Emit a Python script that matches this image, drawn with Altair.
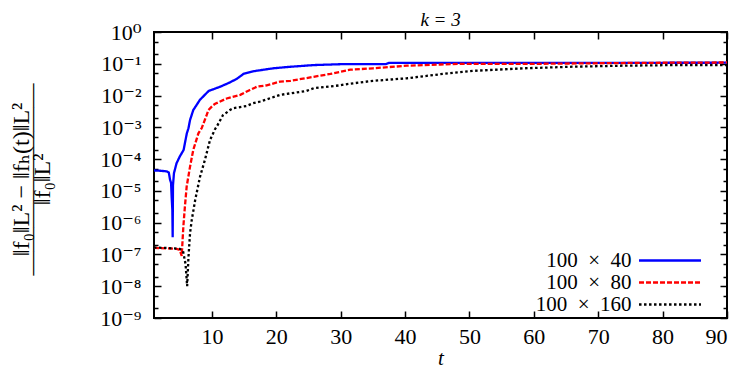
import altair as alt
import pandas as pd

series_names = ["100 × 40", "100 × 80", "100 × 160"]
series_colors = ["#0000ff", "#ff0000", "#000000"]

t_40 = [1.0, 2.0, 3.0, 3.3, 3.5, 3.65, 3.75, 3.85, 3.9, 3.95, 4.1, 4.5, 5.0, 5.6, 6.1, 6.35,
        6.6, 7.1, 8.15, 9.5, 11.3, 12.8, 13.9, 14.9, 16.4, 19.5, 22.0, 25.8, 30.0, 37.0, 37.5,
        50.0, 70.0, 90.0]
v_40 = [4.4e-5, 4.3e-5, 4.1e-5, 3.8e-5, 2.2e-5, 1.8e-5, 6e-6, 2.5e-6, 3.5e-7, 1.5e-5, 3.6e-5,
        7.4e-5, 1.2e-4, 1.95e-4, 6.5e-4, 9.3e-4, 1.7e-3, 3.5e-3, 7.4e-3, 1.4e-2, 1.9e-2, 2.6e-2,
        3.4e-2, 4.8e-2, 5.8e-2, 7.2e-2, 8.0e-2, 9.1e-2, 9.7e-2, 9.7e-2, 0.107, 0.107, 0.107, 0.108]

t_80 = [1.0, 3.0, 4.5, 5.0, 5.3, 5.56, 5.8, 6.08, 6.6, 7.1, 7.9, 8.4, 9.2, 9.45, 10.2, 10.5,
        12.3, 14.4, 15.9, 17.0, 18.5, 20.6, 22.2, 25.8, 28.4, 31.5, 35.0, 40.3, 45.5, 49.0,
        61.0, 76.6, 90.0]
v_80 = [1.6e-7, 1.55e-7, 1.5e-7, 1.4e-7, 9e-8, 7.6e-7, 3.2e-6, 1.4e-5, 5.8e-5, 1.95e-4, 6.5e-4,
        9.3e-4, 2.5e-3, 3.5e-3, 5.0e-3, 5.5e-3, 8.1e-3, 1.05e-2, 1.5e-2, 1.9e-2, 2.1e-2, 2.75e-2,
        2.9e-2, 3.9e-2, 4.8e-2, 6.5e-2, 7.2e-2, 8.7e-2, 9.5e-2, 0.1, 0.1, 0.107, 0.11]

t_160 = [1.0, 3.0, 5.0, 5.5, 5.9, 6.15, 6.35, 6.6, 6.86, 7.4, 8.15, 8.9, 9.7, 10.5, 10.8, 11.7,
         12.8, 13.3, 15.4, 16.4, 17.5, 20.6, 24.7, 25.8, 29.9, 31.0, 35.0, 40.3, 45.5, 50.6,
         58.4, 66.2, 73.9, 81.7, 90.0]
v_160 = [1.65e-7, 1.6e-7, 1.5e-7, 1.3e-7, 5e-8, 1.0e-8, 8e-8, 4.7e-7, 1.2e-6, 5.2e-6, 2.8e-5,
         9.3e-5, 4.0e-4, 8.9e-4, 1.1e-3, 2.4e-3, 3.5e-3, 4.0e-3, 4.7e-3, 5.75e-3, 6.5e-3,
         1.05e-2, 1.4e-2, 1.7e-2, 2.1e-2, 2.3e-2, 2.9e-2, 3.5e-2, 4.7e-2, 6.0e-2, 7.2e-2,
         8.1e-2, 8.7e-2, 9.1e-2, 9.1e-2]

major_y = [1, 1e-1, 1e-2, 1e-3, 1e-4, 1e-5, 1e-6, 1e-7, 1e-8, 1e-9]
minor_y = [m * 10.0 ** (-k) for k in range(1, 10) for m in (5, 2)]
x_ticks = [10, 20, 30, 40, 50, 60, 70, 80, 90]
y_label_texts = ["10⁰", "10⁻¹", "10⁻²", "10⁻³", "10⁻⁴", "10⁻⁵", "10⁻⁶", "10⁻⁷", "10⁻⁸", "10⁻⁹"]
legend_texts = ["100\u2002×\u200240", "100\u2002×\u200280", "100\u2002×\u2002160"]
y_title_lines = ["‖f₀‖L² − ‖fₕ(t)‖L²", "————————", "\u00a0", "‖f₀‖L²"]

rows = []
for name, ts, vs in zip(series_names, [t_40, t_80, t_160], [v_40, v_80, v_160]):
    for t, v in zip(ts, vs):
        rows.append({"series": name, "t": t, "v": v})
df = pd.DataFrame(rows)

FONT = "'Liberation Serif', 'DejaVu Serif', serif"
label_expr = "[" + ",".join("'%s'" % s for s in y_label_texts) + "][round(-log(datum.value)/LN10)]"
legend_expr = "{" + ",".join("'%s':'%s'" % (a, b) for a, b in zip(series_names, legend_texts)) + "}[datum.label]"

xscale = alt.Scale(domain=[1, 90], nice=False, zero=False)
yscale = alt.Scale(type="log", domain=[1e-9, 1], nice=False)

legend = alt.Legend(
    title=None, orient="none", legendX=505.5, legendY=218, padding=0,
    symbolType="M-4,0H4", symbolSize=240, symbolStrokeWidth=2.5, symbolOffset=0,
    labelAlign="right", labelOffset=alt.ExprRef(expr="-49"), labelFont=FONT, labelFontSize=21,
    labelColor="#000", rowPadding=0, labelExpr=legend_expr,
)

lines = alt.Chart(df).mark_line(strokeWidth=2.3, clip=True).encode(
    x=alt.X("t:Q", scale=xscale,
            axis=alt.Axis(orient="bottom", values=x_ticks, ticks=False, domain=False, grid=False,
                          labelPadding=8, title="t", titleFontStyle="italic",
                          titleFont=FONT, titleFontSize=21, titleFontWeight="normal",
                          titlePadding=0)),
    y=alt.Y("v:Q", scale=yscale,
            axis=alt.Axis(orient="left", values=major_y, ticks=False, domain=False, grid=False,
                          labelExpr=label_expr, labelPadding=13,
                          title=y_title_lines,
                          titleAngle=270, titleX=-133, titleY=147, titleBaseline="middle",
                          titleAlign="center", titleFont=FONT, titleFontSize=24,
                          titleFontWeight="normal", titleLineHeight=10.5, titleColor="#000")),
    color=alt.Color("series:N", scale=alt.Scale(domain=series_names, range=series_colors),
                    legend=legend),
    strokeDash=alt.StrokeDash("series:N",
                              scale=alt.Scale(domain=series_names,
                                              range=[[1, 0], [5, 2], [2.5, 2.5]]),
                              legend=legend),
    order=alt.Order("t:Q"),
)

def tick_layer(yvals, yorient, ylen, xaxis):
    return alt.Chart(df).mark_line(opacity=0).encode(
        x=alt.X("t:Q", scale=xscale, axis=xaxis),
        y=alt.Y("v:Q", scale=yscale,
                axis=alt.Axis(orient=yorient, values=yvals, labels=False, domain=False,
                              grid=False, title=None, tickColor="#000", tickWidth=1.5,
                              tickSize=alt.ExprRef(expr=str(-ylen)))),
        detail="series:N",
    )

top_axis = alt.Axis(orient="top", values=x_ticks, labels=False, domain=False, grid=False,
                    title=None, tickColor="#000", tickWidth=1.5,
                    tickSize=alt.ExprRef(expr="-7"))
bottom_ticks = alt.Axis(orient="bottom", values=x_ticks, labels=False, domain=False, grid=False,
                        title=None, tickColor="#000", tickWidth=1.5,
                        tickSize=alt.ExprRef(expr="-7"))

l_major = tick_layer(major_y, "left", 7, top_axis)
l_minor = tick_layer(minor_y, "left", 4, bottom_ticks)
r_major = tick_layer(major_y, "right", 7, None)
r_minor = tick_layer(minor_y, "right", 4, None)

chart = alt.layer(lines, l_major, l_minor, r_major, r_minor).resolve_axis(
    x="independent", y="independent"
).properties(
    width=573, height=286,
    padding={"left": 146, "top": 24, "right": 7, "bottom": 52},
    autosize=alt.AutoSizeParams(type="none"),
    title=alt.Title("k = 3", font=FONT, fontSize=19, fontStyle="italic",
                    fontWeight="normal", color="#000", offset=alt.ExprRef(expr="-9")),
).configure_view(stroke="#000", strokeWidth=2).configure_axis(
    labelFont=FONT, labelFontSize=22, labelColor="#000", titleColor="#000",
)

chart.save("out.html", embed_options={"renderer": "svg", "actions": False})
